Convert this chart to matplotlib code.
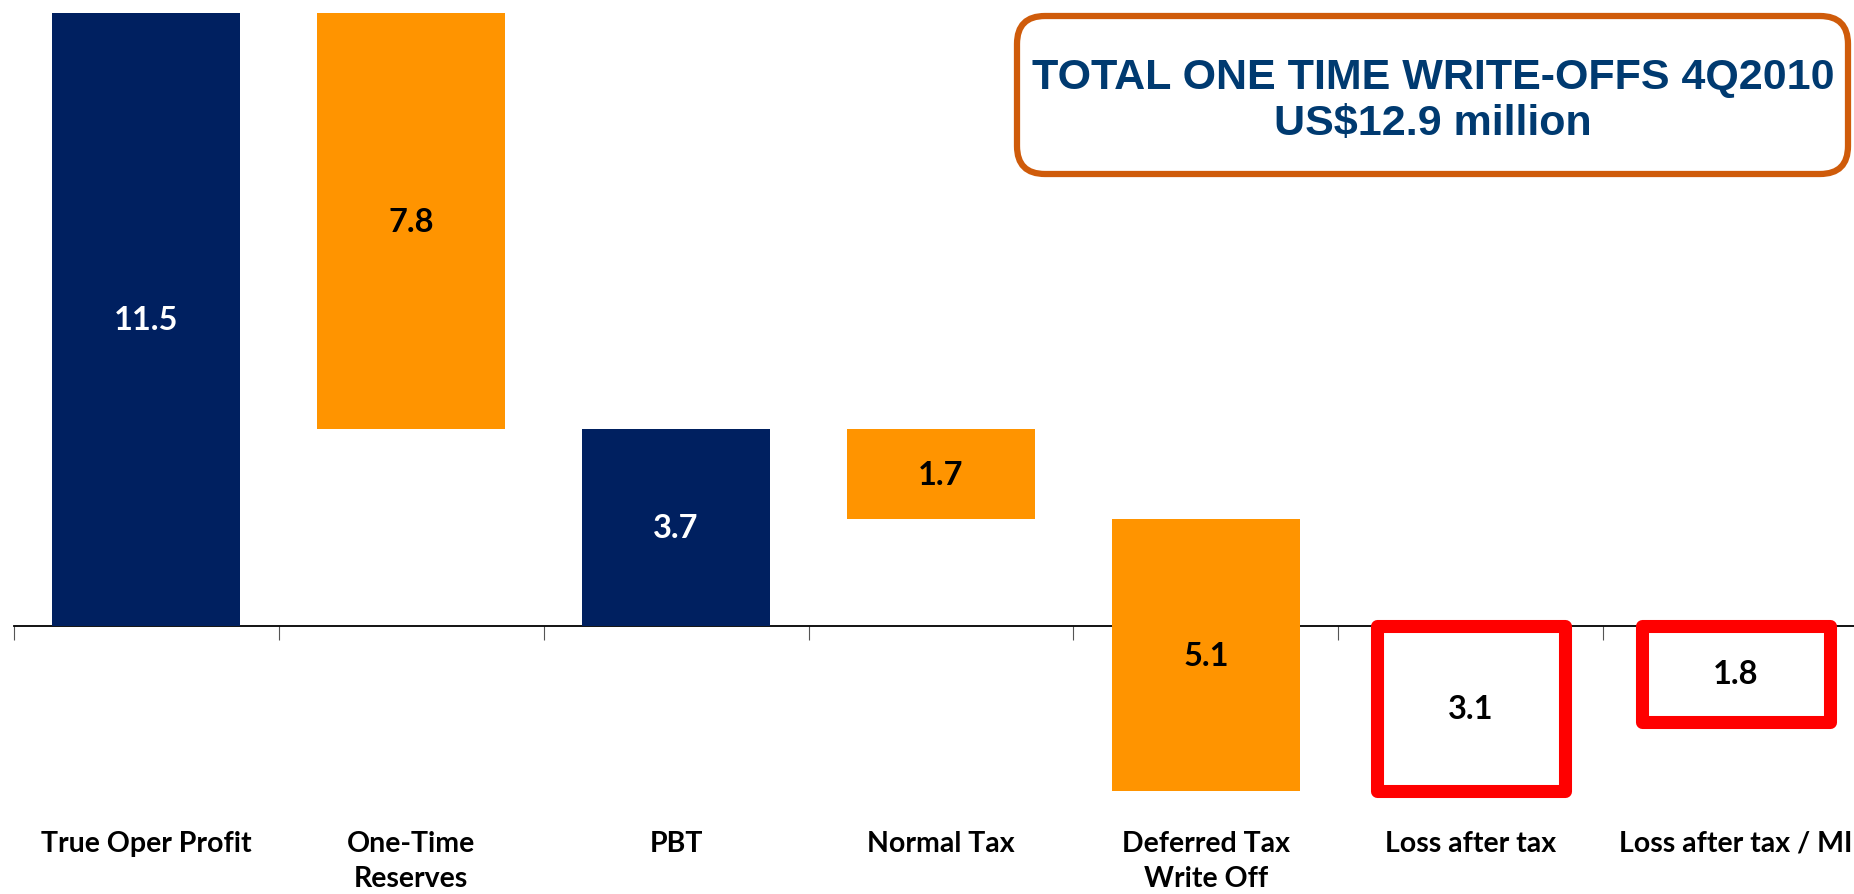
import matplotlib
matplotlib.use("Agg")
import matplotlib.pyplot as plt
from matplotlib.patches import FancyBboxPatch
from matplotlib.transforms import IdentityTransform

categories = ["True Oper Profit", "One-Time\nReserves", "PBT", "Normal Tax",
              "Deferred Tax\nWrite Off", "Loss after tax", "Loss after tax / MI"]
# signed values; totals start at zero, steps hang from the running level
values = [11.5, -7.8, 3.7, -1.7, -5.1, -3.1, -1.8]
kinds = ["total", "step", "total", "step", "step", "loss", "loss"]

navy = "#002060"
orange = "#FF9400"
red = "#FF0000"

fig = plt.figure(figsize=(18.54, 8.95), dpi=100)
ax = fig.add_axes([14 / 1854, 0, 1, 1])

running = 0.0
for i, (v, k) in enumerate(zip(values, kinds)):
    if k == "step":
        bottom = running
        running += v
    else:
        bottom = 0.0
        running = v
    if k == "total":
        ax.bar(i, v, bottom=bottom, width=0.71, color=navy, zorder=3)
        tc = "white"
    elif k == "step":
        ax.bar(i, v, bottom=bottom, width=0.71, color=orange, zorder=3)
        tc = "black"
    else:
        ax.bar(i, v, bottom=bottom, width=0.71, facecolor="white", edgecolor=red,
               linewidth=9.4, joinstyle="round", zorder=3)
        tc = "black"
    ax.text(i, bottom + v / 2, f"{abs(v):.1f}", ha="center", va="center",
            color=tc, fontsize=23.5, fontweight="bold", family="Lato", zorder=4)
    ax.text(i, -3.82, categories[i], ha="center", va="top", fontsize=20.5,
            fontweight="bold", family="Lato", linespacing=1.47)

ax.set_xlim(-0.5, 6.5)
ax.set_ylim(-5.03, 11.77)
for s in ["left", "right", "top"]:
    ax.spines[s].set_visible(False)
ax.spines["bottom"].set_position(("data", 0))
ax.spines["bottom"].set_linewidth(1.3)
ax.spines["bottom"].set_zorder(2)
ax.set_xticks([x - 0.5 for x in range(8)])
ax.set_xticklabels([])
ax.tick_params(axis="x", direction="out", length=10, width=0.8, color="#555555")
ax.set_yticks([])

box = FancyBboxPatch((1017, 895 - 175), 831, 158,
                     boxstyle="round,pad=0,rounding_size=28",
                     transform=IdentityTransform(), facecolor="white",
                     edgecolor="#CF5B0A", linewidth=4.5)
fig.patches.append(box)
fig.text(1433 / 1854, 1 - 78 / 895, "TOTAL ONE TIME WRITE-OFFS 4Q2010",
         ha="center", va="center", color="#003A70", fontsize=31,
         fontweight="bold", family="Liberation Sans")
fig.text(1433 / 1854, 1 - 124.5 / 895, "US$12.9 million",
         ha="center", va="center", color="#003A70", fontsize=31,
         fontweight="bold", family="Liberation Sans")

fig.savefig("out.png", dpi=100)
